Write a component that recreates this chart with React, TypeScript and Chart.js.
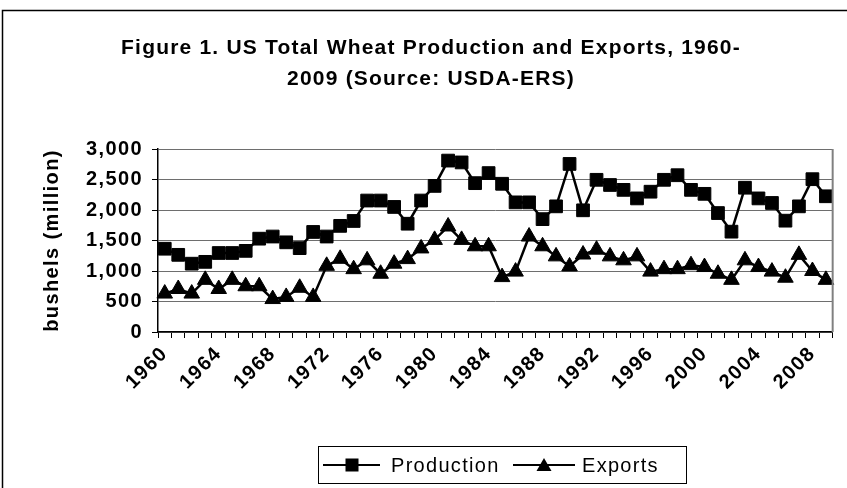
import React, { useEffect, useRef } from 'react';
import { Chart, registerables } from 'chart.js';

Chart.register(...registerables);

const years: string[] = [
  '1960','1961','1962','1963','1964','1965','1966','1967','1968','1969',
  '1970','1971','1972','1973','1974','1975','1976','1977','1978','1979',
  '1980','1981','1982','1983','1984','1985','1986','1987','1988','1989',
  '1990','1991','1992','1993','1994','1995','1996','1997','1998','1999',
  '2000','2001','2002','2003','2004','2005','2006','2007','2008','2009',
];

const production: number[] = [
  1365, 1265, 1120, 1150, 1295, 1295, 1330, 1530, 1565, 1470,
  1375, 1640, 1565, 1740, 1820, 2155, 2155, 2050, 1775, 2155,
  2395, 2810, 2780, 2440, 2605, 2430, 2125, 2125, 1850, 2060,
  2755, 1995, 2495, 2410, 2330, 2190, 2300, 2495, 2570, 2330,
  2265, 1950, 1645, 2365, 2190, 2115, 1825, 2060, 2505, 2225,
];

const exportsData: number[] = [
  630, 705, 630, 855, 705, 855, 750, 750, 540, 575,
  725, 575, 1085, 1200, 1030, 1175, 955, 1120, 1195, 1370,
  1510, 1730, 1510, 1405, 1405, 900, 990, 1565, 1405, 1240,
  1075, 1270, 1350, 1240, 1175, 1240, 990, 1030, 1030, 1095,
  1065, 955, 855, 1175, 1065, 990, 890, 1265, 1000, 855,
];

const titleLines: string[] = [
  'Figure 1. US Total Wheat Production and Exports, 1960-',
  '2009 (Source: USDA-ERS)',
];
const yAxisTitle = 'bushels (million)';
const seriesNames: string[] = ['Production', 'Exports'];
const yMin = 0;
const yMax = 3000;
const yStep = 500;
const labelEvery = 4;

const FONT = '"Liberation Sans", Arial, Helvetica, sans-serif';
const SPACING = '1.4px';

const spacingPlugin = {
  id: 'spacing',
  beforeUpdate(chart: any) {
    chart.ctx.letterSpacing = SPACING;
  },
  beforeDraw(chart: any) {
    chart.ctx.letterSpacing = SPACING;
  },
};

const decorPlugin = {
  id: 'decor',
  afterDraw(chart: any) {
    const ctx = chart.ctx as CanvasRenderingContext2D;
    const area = chart.chartArea;
    ctx.save();
    // outer frame
    ctx.strokeStyle = '#000';
    ctx.lineWidth = 1.5;
    ctx.strokeRect(2.5, 10.5, 900, 600);
    // plot right border
    ctx.strokeStyle = '#808080';
    ctx.lineWidth = 2;
    ctx.beginPath();
    ctx.moveTo(area.right, area.top);
    ctx.lineTo(area.right, area.bottom);
    ctx.stroke();
    // title
    ctx.fillStyle = '#000';
    ctx.font = `bold 21px ${FONT}`;
    ctx.textAlign = 'center';
    ctx.textBaseline = 'middle';
    ctx.letterSpacing = '1.2px';
    ctx.fillText(titleLines[0], 431, 48);
    ctx.fillText(titleLines[1], 431, 79);
    // legend
    ctx.lineWidth = 1;
    ctx.strokeStyle = '#000';
    ctx.strokeRect(318.5, 446.5, 368, 37);
    const ly = 465;
    ctx.lineWidth = 2;
    ctx.beginPath();
    ctx.moveTo(323, ly);
    ctx.lineTo(380, ly);
    ctx.moveTo(513, ly);
    ctx.lineTo(575, ly);
    ctx.stroke();
    ctx.fillRect(352 - 6.5, ly - 6.5, 13, 13);
    ctx.beginPath();
    ctx.moveTo(544, ly - 7);
    ctx.lineTo(544 + 7.5, ly + 6);
    ctx.lineTo(544 - 7.5, ly + 6);
    ctx.closePath();
    ctx.fill();
    ctx.font = `20px ${FONT}`;
    ctx.letterSpacing = '1.3px';
    ctx.textAlign = 'left';
    ctx.fillText(seriesNames[0], 391, ly + 1);
    ctx.fillText(seriesNames[1], 582, ly + 1);
    ctx.restore();
  },
};

export default function App() {
  const canvasRef = useRef<HTMLCanvasElement | null>(null);

  useEffect(() => {
    document.body.style.margin = '0';
    const canvas = canvasRef.current;
    if (!canvas) return;
    const tickFont = { family: FONT, size: 20, weight: 'bold' as const };
    const chart = new Chart(canvas, {
      type: 'line',
      data: {
        labels: years,
        datasets: [
          {
            label: seriesNames[0],
            data: production,
            borderColor: '#000',
            backgroundColor: '#000',
            borderWidth: 2.5,
            pointStyle: 'rect',
            pointRadius: 9,
            pointBorderWidth: 1,
            pointBackgroundColor: '#000',
            pointBorderColor: '#000',
            tension: 0,
          },
          {
            label: seriesNames[1],
            data: exportsData,
            borderColor: '#000',
            backgroundColor: '#000',
            borderWidth: 2.5,
            pointStyle: 'triangle',
            pointRadius: 9,
            pointBorderWidth: 1,
            pointBackgroundColor: '#000',
            pointBorderColor: '#000',
            tension: 0,
          },
        ],
      },
      options: {
        responsive: false,
        animation: false,
        events: [],
        layout: { padding: { left: 40, top: 149, right: 11, bottom: 0 } },
        plugins: {
          legend: { display: false },
          title: { display: false },
          tooltip: { enabled: false },
        },
        scales: {
          x: {
            type: 'category',
            offset: true,
            grid: {
              offset: true,
              drawOnChartArea: false,
              drawTicks: true,
              tickLength: 6,
              color: '#000',
            },
            border: { color: '#000', width: 1.5 },
            ticks: {
              autoSkip: false,
              minRotation: 45,
              maxRotation: 45,
              color: '#000',
              padding: 4,
              font: tickFont,
              callback: (_v: any, i: number) => (i % labelEvery === 0 ? years[i] : ''),
            },
            afterFit: (s: any) => {
              s.height = 156;
            },
          },
          y: {
            min: yMin,
            max: yMax,
            ticks: {
              stepSize: yStep,
              color: '#000',
              padding: 9,
              font: tickFont,
              callback: (v: any) => Number(v).toLocaleString('en-US'),
            },
            grid: { color: '#6e6e6e', lineWidth: 1, tickLength: 6, tickColor: '#000' },
            border: { color: '#000', width: 1.5 },
            title: {
              display: true,
              text: yAxisTitle,
              color: '#000',
              padding: 0,
              font: { family: FONT, size: 20, weight: 'bold' },
            },
            afterFit: (s: any) => {
              s.width = 118;
            },
          },
        },
      },
      plugins: [spacingPlugin, decorPlugin],
    });
    return () => chart.destroy();
  }, []);

  return (
    <div style={{ position: 'absolute', left: 0, top: 0, width: 847, height: 488 }}>
      <canvas ref={canvasRef} width={847} height={488} style={{ display: 'block' }} />
    </div>
  );
}
